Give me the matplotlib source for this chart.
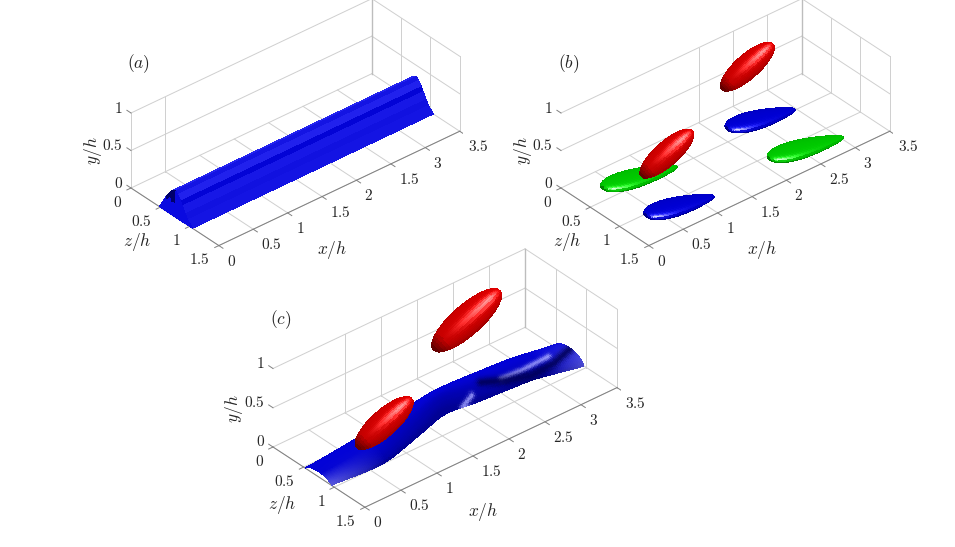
import numpy as np
import matplotlib
matplotlib.use("Agg")
import matplotlib.pyplot as plt
from mpl_toolkits.mplot3d import proj3d

plt.rcParams['mathtext.fontset'] = 'cm'
plt.rcParams['font.family'] = ['DejaVu Serif']

W, H = 955, 547
x_ticks = [0, 0.5, 1, 1.5, 2, 2.5, 3, 3.5]
z_ticks = [0, 0.5, 1, 1.5]
y_ticks = [0, 0.5, 1]
x_labels_a = ['0', '0.5', '1', '1.5', '2', '1.5', '3', '3.5']
x_labels = ['0', '0.5', '1', '1.5', '2', '2.5', '3', '3.5']
z_labels = ['0', '0.5', '1', '1.5']
y_labels = ['0', '0.5', '1']

# straight ridge of panel (a): cross-section
ridge_z = [0.48, 0.54, 0.60, 0.66, 0.71, 0.76, 0.80, 0.84, 0.87, 0.92, 0.97, 1.05]
ridge_y = [0.0, 0.09, 0.19, 0.28, 0.33, 0.35, 0.32, 0.27, 0.22, 0.14, 0.07, 0.0]
ridge_tone = [0.86, 0.87, 0.92, 0.89, 0.91, 0.86, 0.90, 0.81, 0.87, 0.85, 0.86, 0.88]

# vortices: centre (x, z), or (x, z, y) for the lifted ones
blue_b = [(0.75, 1.15), (2.55, 0.42)]
green_b = [(0.78, 0.43), (2.56, 1.18)]
red_b = [(0.90, 0.75, 0.45), (2.07, 0.75, 1.10)]
red_c = [(0.905, 0.75, 0.295), (2.05, 0.75, 1.105)]

# wavy streak of panel (c)
rib_x = [0.0, 0.47, 0.74, 1.30, 1.80, 2.12, 2.55, 2.94, 3.5]
rib_zr = [0.95, 1.00, 1.00, 0.84, 0.69, 0.75, 0.78, 0.81, 0.97]
rib_zl = [0.53, 0.50, 0.48, 0.44, 0.40, 0.38, 0.38, 0.40, 0.48]
rib_h = [0.06, 0.12, 0.15, 0.18, 0.20, 0.19, 0.16, 0.15, 0.11]
# pale streaks and dark crescent on the streak, as seen on the page
pale_lines = [[(500, 379), (520, 371), (547, 357)], [(461, 406), (470, 395)]]
dark_line = [(480, 383), (505, 381), (530, 375), (552, 364), (568, 350)]

fig = plt.figure(figsize=(W / 100, H / 100), dpi=100, facecolor='white')
CAM = np.array([-0.538, 0.632, 0.558])
L_LENS = np.array([-0.35, 0.35, 0.87])
L_RED = np.array([0.30, 0.25, 0.90])
L_RIB = np.array([-0.15, -0.35, 0.92])


def normals(X, Z, Y):
    P = np.stack([X, Z, Y], axis=-1)
    du = np.gradient(P, axis=0)
    dv = np.gradient(P, axis=1)
    n = np.cross(du, dv)
    return n / np.maximum(np.linalg.norm(n, axis=-1, keepdims=True), 1e-9)


def shade(X, Z, Y, base, amb, dif, spec, shin, light, centre=None):
    n = normals(X, Z, Y)
    if centre is None:
        n = n * np.where(n[..., 2:] < 0, -1, 1)
    else:
        c = np.stack([X - centre[0], Z - centre[1], Y - centre[2]], axis=-1)
        n = n * np.where((n * c).sum(-1, keepdims=True) < 0, -1, 1)
    L = light / np.linalg.norm(light)
    hv = (L + CAM) / np.linalg.norm(L + CAM)
    d = np.clip(n @ L, 0, 1)[..., None]
    s = np.clip(n @ hv, 0, 1)[..., None] ** shin
    return np.clip(np.array(base) * (amb + dif * d) + spec * s, 0, 1)


def surf(ax, X, Z, Y, col, zo):
    ax.plot_surface(X, Z, Y, facecolors=col, shade=False, rstride=1, cstride=1,
                    linewidth=0, antialiased=False, zorder=zo)


def ellipsoid(ax, c, half, rl, rv, base, zo, n=60, m=48):
    a = np.array(half, float)
    e1 = np.array([0.0, 1.0, 0.0])
    e2 = np.cross(a, e1)
    e2 = e2 / np.linalg.norm(e2)
    if e2[2] < 0:
        e2 = -e2
    t = np.linspace(-1, 1, n)
    ph = np.linspace(0, 2 * np.pi, m)
    T, Ph = np.meshgrid(t, ph, indexing='ij')
    R = np.sqrt(np.clip(1 - T ** 2, 0, 1))
    P = (np.array(c) + T[..., None] * a + (R * np.cos(Ph))[..., None] * rl * e1
         + (R * np.sin(Ph))[..., None] * rv * e2)
    X, Z, Y = P[..., 0], P[..., 1], P[..., 2]
    col = shade(X, Z, Y, base, 0.74, 0.30, 0.60, 34, L_RED, centre=c)
    tip = 0.62 + 0.38 * np.clip(np.round((T + 1) / 0.30 * 4) / 4, 0, 1)
    col = np.clip(col * tip[..., None], 0, 1)
    surf(ax, X, Z, Y, col, zo)


def floor_lens(ax, c, lx, base, zo):
    # a lens lying on the floor: pointed downstream, round upstream
    n, m = 60, 40
    t = np.linspace(-1, 1, n)
    ph = np.linspace(0, 2 * np.pi, m)
    T, Ph = np.meshgrid(t, ph, indexing='ij')
    R = np.sqrt(np.clip(1 - T ** 2, 0, 1)) * (1.0 - 0.35 * T)
    X = c[0] + T * lx
    Z = c[1] + T * lx * 0.2 + R * np.cos(Ph) * 0.16 - 0.02 * (1 - T ** 2)
    Y = 0.02 + R * np.sin(Ph) * 0.05
    col = shade(X, Z, Y, base, 0.66, 0.38, 0.9, 30, L_LENS, centre=(c[0], c[1], 0.02))
    surf(ax, X, Z, np.maximum(Y, 0.0), col, zo)


def px(ax, x, z, y):
    u, v, _ = proj3d.proj_transform(x, z, y, ax.get_proj())
    return ax.transData.transform((u, v))


def px_grid(ax, X, Z, Y):
    u, v, _ = proj3d.proj_transform(X.ravel(), Z.ravel(), Y.ravel(), ax.get_proj())
    p = ax.transData.transform(np.c_[u, v])
    return p[:, 0].reshape(X.shape), (H - p[:, 1]).reshape(X.shape)


def line_dist(sx, sy, pts):
    best = np.full(sx.shape, 1e9)
    for (x0, y0), (x1, y1) in zip(pts[:-1], pts[1:]):
        dx, dy = x1 - x0, y1 - y0
        t = np.clip(((sx - x0) * dx + (sy - y0) * dy) / (dx * dx + dy * dy), 0, 1)
        best = np.minimum(best, np.hypot(sx - x0 - t * dx, sy - y0 - t * dy))
    return best


def make_axes(origin, scale):
    ax = fig.add_axes([0, 0, 1, 1], projection='3d', computed_zorder=False)
    ax.set_proj_type('ortho')
    ax.view_init(elev=33.9, azim=-130.4)
    ax.set_box_aspect((3.5, 1.5, 1.0))
    ax.set_xlim(0, 3.5, view_margin=0)
    ax.set_ylim(1.5, 0, view_margin=0)
    ax.set_zlim(0, 1, view_margin=0)
    ax.set_axis_off()
    ax.patch.set_alpha(0)
    S = 500.0
    for _ in range(3):
        ax.set_position([0.5 - S / W / 2, 0.5 - S / H / 2, S / W, S / H])
        ax.apply_aspect()
        p0 = px(ax, 0, 0, 0)
        p1 = px(ax, 0, 0, 1)
        S *= scale / np.hypot(*(p1 - p0))
    ax.set_position([0.5 - S / W / 2, 0.5 - S / H / 2, S / W, S / H])
    ax.apply_aspect()
    p0 = px(ax, 0, 0, 0)
    dx = origin[0] - p0[0]
    dy = (H - origin[1]) - p0[1]
    ax.set_position([0.5 - S / W / 2 + dx / W, 0.5 - S / H / 2 + dy / H, S / W, S / H])
    ax.apply_aspect()
    return ax


def label(x, y, s, **kw):
    fig.text(x / W, 1 - y / H, s, **kw)


def frame(ax, xlabs, wall_x, axis_line, off):
    g = dict(color='#cfcfcf', lw=0.7, zorder=1)
    for xt in x_ticks:
        ax.plot([xt, xt], [0, 1.5], [0, 0], **g)
    for zt in z_ticks:
        ax.plot([0, 3.5], [zt, zt], [0, 0], **g)
    for yt in y_ticks[1:]:
        ax.plot([0, 3.5], [0, 0], [yt, yt], **g)
        ax.plot([3.5, 3.5], [0, 1.5], [yt, yt], **g)
    for xt in wall_x:
        ax.plot([xt, xt], [0, 0], [0, 1], **g)
    for zt in z_ticks[1:]:
        ax.plot([3.5, 3.5], [zt, zt], [0, 1], **g)
    ax.plot([3.5, 3.5], [0, 0], [0, 1], color='#bdbdbd', lw=1.0, zorder=1)
    if axis_line:
        ax.plot([0, 0], [0, 0], [0, 1], **g)
    d = dict(color='#808080', lw=0.7, zorder=2)
    ax.plot([0, 3.5], [1.5, 1.5], [0, 0], **d)
    ax.plot([0, 0], [0, 1.5], [0, 0], **d)
    for xt in x_ticks:
        ax.plot([xt, xt], [1.5, 1.57], [0, 0], **d)
    for zt in z_ticks:
        ax.plot([0, -0.06], [zt, zt], [0, 0], **d)
    for yt in y_ticks:
        ax.plot([0, 0], [0, -0.07], [yt, yt], **d)
    tk = dict(fontsize=11, va='center', color='#262626')
    for xt, s in zip(x_ticks, xlabs):
        p = px(ax, xt, 1.5, 0)
        label(p[0] + 8, H - p[1] + 15.5, f'${s}$', ha='left', **tk)
    for zt, s in zip(z_ticks, z_labels):
        p = px(ax, 0, zt, 0)
        label(p[0] - 9, H - p[1] + 14, f'${s}$', ha='right', **tk)
    for yt, s in zip(y_ticks, y_labels):
        p = px(ax, 0, 0, yt)
        label(p[0] - 8, H - p[1] - 5, f'${s}$', ha='right', **tk)
    lb = dict(fontsize=12.5, ha='center', va='center', color='#262626')
    label(off['x'][0], off['x'][1], '$x/h$', **lb)
    label(off['z'][0], off['z'][1], '$z/h$', **lb)
    label(off['y'][0], off['y'][1], '$y/h$', rotation=90, **lb)
    label(off['t'][0], off['t'][1], off['s'], **lb)


# ---------- panel (a)
axa = make_axes((131, 188), 75)
frame(axa, x_labels_a, [0.5], True,
      dict(x=(332, 250), z=(137, 242), y=(93, 151), t=(139, 64), s='$(a)$'))
xs = np.array([0, 3.5])
Xr, Zr = np.meshgrid(xs, np.array(ridge_z), indexing='ij')
Yr = np.tile(np.array(ridge_y), (2, 1))
tone = np.array(ridge_tone)
col_r = np.zeros(Xr.shape + (3,))
col_r[..., 0] = np.clip((tone - 0.80) * 1.3, 0, 1)
col_r[..., 1] = col_r[..., 0]
col_r[..., 2] = np.clip(tone + 0.03, 0, 1)
fr = np.linspace(0, 1, 12)
Zcap = np.outer(fr, np.array(ridge_z)) + np.outer(1 - fr, np.full(len(ridge_z), np.mean(ridge_z)))
Ycap = np.outer(fr, np.array(ridge_y))
Xcap = np.zeros_like(Zcap)
col_c = np.zeros(Zcap.shape + (3,))
dark = (Ycap > 0.17) & (Zcap < 0.74)
col_c[..., 0] = np.where(dark, 0.0, 0.04)
col_c[..., 1] = col_c[..., 0]
col_c[..., 2] = np.where(dark, 0.42, 0.88)
surf(axa, Xr, Zr, Yr, col_r, 3)
surf(axa, Xcap, Zcap, Ycap, col_c, 4)

# ---------- panel (b)
axb = make_axes((561, 188), 75)
frame(axb, x_labels, [2, 2.5, 3], False,
      dict(x=(762, 250), z=(567, 242), y=(523, 151), t=(569, 64), s='$(b)$'))
for c in blue_b:
    floor_lens(axb, c, 0.42, (0, 0, 0.82), 4)
for c in green_b:
    floor_lens(axb, c, 0.46, (0, 0.78, 0), 5)
for c, zo in zip(red_b, (6, 7)):
    ellipsoid(axb, c, (0.37, 0.0, 0.145), 0.145, 0.115, (0.86, 0, 0), zo)

# ---------- panel (c)
axc = make_axes((273, 447), 78.5)
frame(axc, x_labels, [1, 1.5, 2, 2.5, 3], False,
      dict(x=(483, 512), z=(282, 505), y=(234, 409), t=(281, 320), s='$(c)$'))
xf = np.linspace(0, 3.5, 170)
tf = np.linspace(0, 1, 56)
kern = np.ones(15) / 15


def smooth(v):
    f = np.interp(xf, rib_x, v)
    return np.convolve(np.r_[np.full(7, f[0]), f, np.full(7, f[-1])], kern, mode='valid')


zr, zl, hh = smooth(rib_zr), smooth(rib_zl), smooth(rib_h)
Xc, Tc = np.meshgrid(xf, tf, indexing='ij')
Zc = zl[:, None] + Tc * (zr - zl)[:, None]
Yc = hh[:, None] * np.sin(np.pi * Tc) ** 0.55
col = shade(Xc, Zc, Yc, (0.01, 0.01, 0.88), 0.66, 0.30, 0.06, 30, L_RIB)
sx, sy = px_grid(axc, Xc, Zc, Yc)
pale = np.array([0.62, 0.62, 1.0])
navy = np.array([0.0, 0.0, 0.33])
f_end = np.clip((Xc - 3.05) / 0.45, 0, 1) * Tc * 0.5
f_start = np.clip((0.7 - Xc) / 0.7, 0, 1) * np.clip((Tc - 0.6) / 0.4, 0, 1) * 0.55
f_line = np.zeros_like(Xc)
for pts in pale_lines:
    f_line = np.maximum(f_line, 0.85 * np.exp(-(line_dist(sx, sy, pts) / 2.8) ** 2))
f_pale = np.clip(f_end + f_start + f_line, 0, 1)[..., None]
col = col * (1 - f_pale) + pale * f_pale
f_dark = (0.85 * np.exp(-(line_dist(sx, sy, dark_line) / 4.5) ** 2))[..., None]
col = col * (1 - f_dark) + navy * f_dark
surf(axc, Xc, Zc, Yc, col, 4)
ellipsoid(axc, red_c[0], (0.38, 0.0, 0.15), 0.15, 0.12, (0.86, 0, 0), 6)
ellipsoid(axc, red_c[1], (0.46, 0.0, 0.18), 0.175, 0.135, (0.86, 0, 0), 7)

fig.savefig('out.png', dpi=100)
